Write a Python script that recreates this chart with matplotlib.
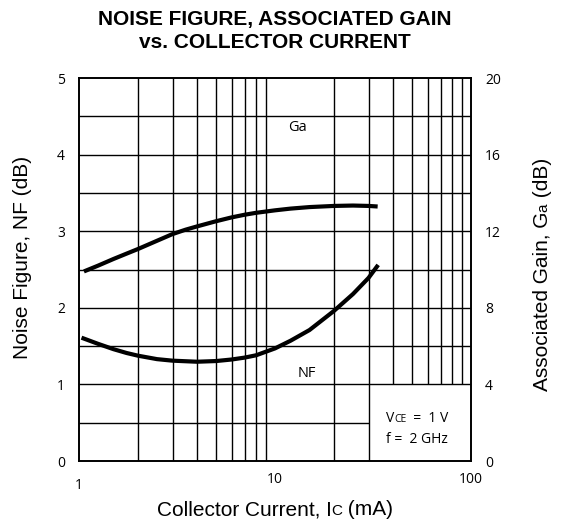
import numpy as np
import matplotlib
matplotlib.use("Agg")
import matplotlib.pyplot as plt
import matplotlib.transforms as mtrans

# data
ic_ga = [1.06, 1.25, 1.5, 1.75, 2, 2.5, 3, 3.5, 4, 5, 6, 7, 8, 10, 12, 15, 20, 25, 30, 33.4]
ga_db = [9.9, 10.2, 10.55, 10.83, 11.07, 11.5, 11.85, 12.08, 12.25, 12.52, 12.72, 12.86,
         12.96, 13.09, 13.18, 13.26, 13.32, 13.34, 13.32, 13.29]

ic_nf = [1.03, 1.25, 1.5, 1.75, 2, 2.5, 3, 4, 5, 6, 7, 8, 10, 12, 15, 20, 25, 30, 33.6]
nf_db = [1.61, 1.53, 1.46, 1.41, 1.375, 1.33, 1.31, 1.296, 1.305, 1.325, 1.35, 1.38,
         1.47, 1.57, 1.71, 1.96, 2.18, 2.39, 2.56]

nf_ticks = [0, 1, 2, 3, 4, 5]
ga_ticks = [0, 4, 8, 12, 16, 20]
x_ticks = [1, 10, 100]
x_ticklabels = ["1", "10", "100"]

TICK_FONT = "Open Sans"
LABEL_FONT = "Liberation Sans"

fig = plt.figure(figsize=(5.67, 5.31), dpi=100)
ax = fig.add_axes([0.1393, 0.1318, 0.6914, 0.7213])
ax2 = ax.twinx()

ax.set_xscale("log")
ax.set_xlim(1, 100)
ax.set_ylim(0, 5)
ax2.set_ylim(0, 20)

# grid, cut out where the condition box sits (bottom right)
minor = [m * d for d in (1, 10) for m in range(2, 10)]
for xv in minor:
    bottom = 1 if xv > 30 else 0
    ax.vlines(xv, bottom, 5, color="black", lw=1.0, zorder=1)
for yv in np.arange(0.5, 5, 0.5):
    right = 30 if yv < 1 else 100
    ax.hlines(yv, 1, right, color="black", lw=1.0, zorder=1)

ax.plot(ic_nf, nf_db, color="black", lw=3.0, solid_capstyle="butt", zorder=3)
ax2.plot(ic_ga, ga_db, color="black", lw=3.0, solid_capstyle="butt", zorder=3)

for a in (ax, ax2):
    for s in a.spines.values():
        s.set_linewidth(1.2)
    a.tick_params(length=0)

ax.set_xticks(x_ticks)
ax.set_xticklabels(x_ticklabels, fontfamily=TICK_FONT, fontsize=10)
ax.xaxis.set_minor_locator(matplotlib.ticker.NullLocator())
ax.set_yticks(nf_ticks)
ax.set_yticklabels([str(t) for t in nf_ticks], fontfamily=TICK_FONT, fontsize=10)
ax.tick_params(axis="y", pad=10)
ax.tick_params(axis="x", pad=8)
ax2.set_yticks(ga_ticks)
ax2.set_yticklabels([str(t) for t in ga_ticks], fontfamily=TICK_FONT, fontsize=10)
ax2.tick_params(axis="y", pad=10)

# the "1" sits a little lower than the other x labels
first = ax.get_xticklabels()[0]
first.set_transform(first.get_transform() + mtrans.ScaledTranslation(0, -4 / 72, fig.dpi_scale_trans))

ax.text(13.1, 4.36, "Ga", fontfamily=TICK_FONT, fontsize=10.5, ha="center", va="center")
ax.text(14.6, 1.14, "NF", fontfamily=TICK_FONT, fontsize=10.5, ha="center", va="center")

fig.canvas.draw()
renderer = fig.canvas.get_renderer()


def text_len(s, fs, family, rot):
    # measure with sentinels so leading/trailing spaces count
    out = []
    for txt in ("|" + s + "|", "||"):
        t = fig.text(0, 0, txt, fontsize=fs, family=family, rotation=rot)
        b = t.get_window_extent(renderer)
        out.append(b.width if rot == 0 else b.height)
        t.remove()
    return out[0] - out[1]


def rich(x, y, pieces, transform, rot=0, ha="center", family=LABEL_FONT):
    widths = [text_len(s, fs, family, rot) for s, fs in pieces]
    pos = -sum(widths) / 2 if ha == "center" else 0
    for (s, fs), w in zip(pieces, widths):
        if rot == 0:
            tr = mtrans.offset_copy(transform, fig=fig, x=pos, y=0, units="dots")
        else:
            tr = mtrans.offset_copy(transform, fig=fig, x=0, y=pos, units="dots")
        fig.text(x, y, s, fontsize=fs, family=family, rotation=rot,
                 rotation_mode="anchor", ha="left", va="baseline", transform=tr)
        pos += w


fig.text(0.485, 0.953, "NOISE FIGURE, ASSOCIATED GAIN", fontsize=15,
         fontweight="bold", family=LABEL_FONT, ha="center", va="baseline")
fig.text(0.485, 0.910, "vs. COLLECTOR CURRENT", fontsize=15,
         fontweight="bold", family=LABEL_FONT, ha="center", va="baseline")

rich(0.485, 0.030, [("Collector Current, I", 15), ("C", 11), (" (mA)", 15)], fig.transFigure)
rich(0.049, 0.515, [("Noise Figure, NF (dB)", 15)], fig.transFigure, rot=90)
rich(0.966, 0.483, [("Associated Gain, G", 15), ("a", 11), (" (dB)", 15)], fig.transFigure, rot=90)

rich(36.8, 0.509, [("V", 10), ("CE", 7.5), ("  =  1 V", 10)], ax.transData, ha="left", family=TICK_FONT)
rich(36.8, 0.235, [("f =  2 GHz", 10)], ax.transData, ha="left", family=TICK_FONT)

fig.savefig("out.png", dpi=100)
